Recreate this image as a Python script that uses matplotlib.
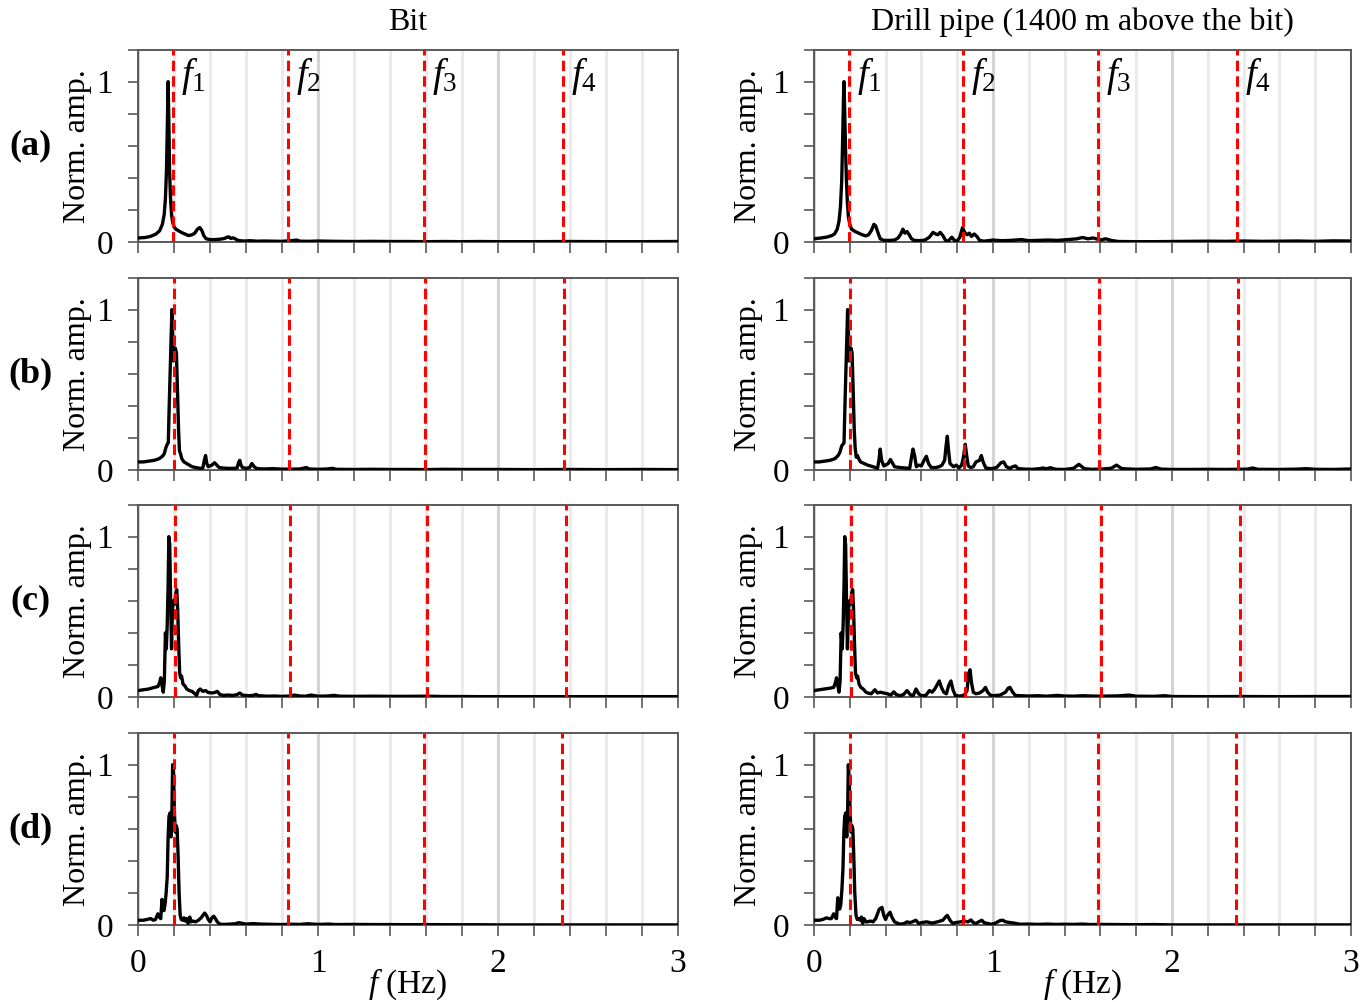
import matplotlib
matplotlib.use('Agg')
import matplotlib.pyplot as plt
from matplotlib.ticker import MultipleLocator, FixedLocator, NullFormatter

plt.rcParams['font.family'] = ['Liberation Serif', 'DejaVu Serif']
plt.rcParams['mathtext.fontset'] = 'custom'
plt.rcParams['mathtext.rm'] = 'Liberation Serif'
plt.rcParams['mathtext.it'] = 'Liberation Serif:italic'

# ---- spectra (frequency in Hz, normalised amplitude) ----
bit_a_f = [0, 0.04, 0.07, 0.10, 0.12, 0.135, 0.145, 0.152, 0.158, 0.163, 0.167, 0.171, 0.175, 0.18,
           0.186, 0.193, 0.2, 0.21, 0.225, 0.24, 0.26, 0.28, 0.30, 0.315, 0.33, 0.343, 0.355, 0.365,
           0.378, 0.40, 0.43, 0.46, 0.48, 0.495, 0.505, 0.515, 0.527, 0.54, 0.55, 0.565, 0.59, 0.62,
           0.66, 0.70, 0.75, 0.80, 0.85, 0.88, 0.90, 0.95, 1.0, 1.1, 1.2, 1.3, 1.4, 1.5, 1.6, 1.7,
           1.8, 1.9, 2.0, 2.2, 2.4, 2.6, 2.8, 3.0]
bit_a_amp = [0.025, 0.028, 0.035, 0.05, 0.07, 0.11, 0.17, 0.27, 0.45, 0.75, 1.0, 0.75, 0.45, 0.28,
             0.17, 0.12, 0.095, 0.08, 0.07, 0.06, 0.05, 0.04, 0.045, 0.055, 0.08, 0.09, 0.07, 0.04,
             0.02, 0.015, 0.015, 0.018, 0.022, 0.03, 0.032, 0.022, 0.026, 0.02, 0.012, 0.008, 0.006, 0.008,
             0.005, 0.006, 0.005, 0.004, 0.008, 0.012, 0.005, 0.004, 0.006, 0.004, 0.003, 0.004, 0.003, 0.003, 0.002, 0.003,
             0.002, 0.003, 0.002, 0.002, 0.003, 0.002, 0.002, 0.003]

pipe_a_f = [0, 0.04, 0.07, 0.10, 0.115, 0.13, 0.14, 0.148, 0.155, 0.161, 0.165, 0.168, 0.172, 0.176,
            0.181, 0.186, 0.192, 0.2, 0.21, 0.23, 0.25, 0.27, 0.29, 0.305, 0.32, 0.335, 0.345, 0.357,
            0.37, 0.39, 0.42, 0.45, 0.47, 0.485, 0.497, 0.508, 0.52, 0.532, 0.545, 0.56, 0.59, 0.62,
            0.645, 0.665, 0.68, 0.692, 0.705, 0.72, 0.735, 0.75, 0.77, 0.785, 0.80, 0.815, 0.83, 0.842,
            0.855, 0.868, 0.88, 0.895, 0.91, 0.925, 0.95, 1.0, 1.05, 1.1, 1.16, 1.2, 1.25, 1.31, 1.36,
            1.42, 1.47, 1.5, 1.53, 1.56, 1.6, 1.63, 1.66, 1.7, 1.8, 1.9, 2.0, 2.1, 2.2, 2.3, 2.4, 2.5,
            2.6, 2.7, 2.8, 2.9, 3.0]
pipe_a_amp = [0.02, 0.025, 0.03, 0.04, 0.05, 0.08, 0.13, 0.22, 0.38, 0.68, 0.9, 1.0, 0.8, 0.6,
              0.4, 0.26, 0.16, 0.11, 0.08, 0.065, 0.055, 0.045, 0.038, 0.045, 0.07, 0.11, 0.1, 0.06,
              0.02, 0.01, 0.01, 0.012, 0.025, 0.05, 0.08, 0.055, 0.065, 0.045, 0.02, 0.01, 0.008, 0.012,
              0.03, 0.06, 0.05, 0.045, 0.06, 0.04, 0.01, 0.005, 0.03, 0.01, 0.005, 0.03, 0.09, 0.06,
              0.045, 0.055, 0.035, 0.05, 0.035, 0.01, 0.005, 0.012, 0.008, 0.01, 0.015, 0.008, 0.01, 0.012, 0.01,
              0.015, 0.02, 0.028, 0.02, 0.025, 0.012, 0.02, 0.01, 0.003, 0.002, 0.002, 0.003, 0.004, 0.005, 0.004, 0.006, 0.004,
              0.005, 0.006, 0.004, 0.007, 0.006]

bit_b_f = [0, 0.03, 0.06, 0.09, 0.117, 0.135, 0.145, 0.155, 0.162, 0.168, 0.173, 0.178, 0.183, 0.188,
           0.192, 0.196, 0.2, 0.207, 0.213, 0.219, 0.225, 0.23, 0.236, 0.243, 0.255, 0.27, 0.285, 0.30,
           0.32, 0.345, 0.36, 0.368, 0.375, 0.382, 0.39, 0.40, 0.41, 0.425, 0.438, 0.45, 0.47, 0.50,
           0.53, 0.55, 0.558, 0.565, 0.572, 0.58, 0.6, 0.62, 0.632, 0.645, 0.66, 0.70, 0.75, 0.80,
           0.85, 0.90, 0.935, 0.95, 1.0, 1.05, 1.08, 1.1, 1.2, 1.3, 1.4, 1.5, 1.6, 1.7, 1.8, 2.0,
           2.2, 2.4, 2.6, 2.8, 3.0]
bit_b_amp = [0.05, 0.05, 0.055, 0.06, 0.07, 0.085, 0.1, 0.14, 0.16, 0.17, 0.4, 0.6, 0.8, 1.0,
             0.85, 0.68, 0.74, 0.76, 0.73, 0.5, 0.25, 0.12, 0.1, 0.07, 0.05, 0.04, 0.03, 0.02,
             0.015, 0.01, 0.012, 0.06, 0.09, 0.04, 0.02, 0.025, 0.03, 0.045, 0.03, 0.015, 0.012, 0.01,
             0.01, 0.012, 0.045, 0.06, 0.03, 0.015, 0.01, 0.015, 0.04, 0.02, 0.008, 0.006, 0.008, 0.005,
             0.005, 0.006, 0.015, 0.006, 0.004, 0.006, 0.01, 0.004, 0.003, 0.004, 0.003, 0.003, 0.002, 0.004, 0.003, 0.003,
             0.002, 0.003, 0.002, 0.003, 0.002]

pipe_b_f = [0, 0.03, 0.06, 0.09, 0.117, 0.135, 0.145, 0.155, 0.162, 0.168, 0.173, 0.178, 0.183, 0.188,
            0.192, 0.196, 0.2, 0.207, 0.213, 0.219, 0.225, 0.23, 0.236, 0.243, 0.25, 0.26, 0.28, 0.30,
            0.33, 0.355, 0.363, 0.37, 0.378, 0.39, 0.40, 0.415, 0.427, 0.44, 0.45, 0.48, 0.51, 0.535,
            0.545, 0.553, 0.562, 0.572, 0.585, 0.60, 0.615, 0.628, 0.64, 0.655, 0.68, 0.70, 0.715, 0.73,
            0.738, 0.745, 0.752, 0.76, 0.78, 0.795, 0.81, 0.825, 0.835, 0.845, 0.853, 0.862, 0.875, 0.89,
            0.905, 0.925, 0.935, 0.945, 0.96, 0.99, 1.02, 1.045, 1.06, 1.075, 1.095, 1.11, 1.126, 1.14,
            1.18, 1.22, 1.26, 1.28, 1.3, 1.32, 1.35, 1.4, 1.45, 1.48, 1.51, 1.55, 1.6, 1.66, 1.69,
            1.72, 1.8, 1.88, 1.91, 1.94, 2.0, 2.1, 2.2, 2.3, 2.42, 2.45, 2.48, 2.6, 2.7, 2.75, 2.8,
            2.9, 3.0]
pipe_b_amp = [0.05, 0.05, 0.055, 0.06, 0.07, 0.09, 0.11, 0.15, 0.16, 0.17, 0.4, 0.6, 0.8, 1.0,
              0.85, 0.68, 0.74, 0.76, 0.73, 0.5, 0.25, 0.14, 0.08, 0.09, 0.07, 0.05, 0.04, 0.03,
              0.02, 0.01, 0.06, 0.13, 0.06, 0.025, 0.03, 0.04, 0.065, 0.04, 0.02, 0.015, 0.012, 0.01,
              0.08, 0.13, 0.09, 0.02, 0.03, 0.025, 0.06, 0.085, 0.04, 0.015, 0.015, 0.02, 0.03, 0.06,
              0.15, 0.21, 0.12, 0.04, 0.02, 0.03, 0.012, 0.03, 0.08, 0.16, 0.09, 0.025, 0.015, 0.02,
              0.05, 0.06, 0.09, 0.05, 0.012, 0.008, 0.015, 0.045, 0.05, 0.02, 0.01, 0.02, 0.025, 0.008,
              0.005, 0.004, 0.008, 0.012, 0.007, 0.014, 0.004, 0.003, 0.01, 0.035, 0.008, 0.004, 0.005, 0.01, 0.03,
              0.008, 0.004, 0.006, 0.015, 0.005, 0.003, 0.003, 0.004, 0.003, 0.005, 0.012, 0.004, 0.003, 0.005, 0.008, 0.004,
              0.003, 0.006]

bit_c_f = [0, 0.03, 0.06, 0.09, 0.11, 0.12, 0.126, 0.132, 0.14, 0.146, 0.152, 0.157, 0.162, 0.167,
           0.171, 0.176, 0.181, 0.186, 0.191, 0.197, 0.203, 0.21, 0.215, 0.22, 0.225, 0.231, 0.236,
           0.242, 0.25, 0.26, 0.27, 0.285, 0.30, 0.315, 0.325, 0.335, 0.345, 0.36, 0.375, 0.39, 0.41,
           0.425, 0.44, 0.455, 0.475, 0.5, 0.53, 0.55, 0.565, 0.58, 0.61, 0.64, 0.655, 0.67, 0.72,
           0.76, 0.80, 0.84, 0.87, 0.9, 0.93, 0.96, 1.0, 1.05, 1.09, 1.12, 1.2, 1.3, 1.4, 1.5, 1.6,
           1.7, 1.8, 1.9, 2.0, 2.2, 2.4, 2.6, 2.8, 3.0]
bit_c_amp = [0.04, 0.045, 0.05, 0.06, 0.065, 0.09, 0.12, 0.08, 0.03, 0.1, 0.4, 0.3, 0.45, 0.7,
             1.0, 0.95, 0.6, 0.3, 0.55, 0.6, 0.58, 0.65, 0.67, 0.55, 0.35, 0.15, 0.12,
             0.13, 0.08, 0.07, 0.05, 0.04, 0.035, 0.02, 0.01, 0.04, 0.05, 0.035, 0.04, 0.028, 0.025,
             0.028, 0.035, 0.015, 0.01, 0.012, 0.01, 0.015, 0.025, 0.012, 0.008, 0.01, 0.016, 0.008, 0.005,
             0.006, 0.004, 0.006, 0.012, 0.006, 0.005, 0.012, 0.005, 0.006, 0.01, 0.005, 0.004, 0.005, 0.004, 0.004, 0.005,
             0.003, 0.003, 0.002, 0.002, 0.002, 0.002, 0.002, 0.002, 0.002]

pipe_c_f = [0, 0.03, 0.06, 0.09, 0.11, 0.12, 0.126, 0.132, 0.14, 0.146, 0.152, 0.158, 0.163, 0.168,
            0.172, 0.177, 0.182, 0.187, 0.193, 0.199, 0.205, 0.211, 0.216, 0.221, 0.226, 0.232, 0.238,
            0.244, 0.252, 0.262, 0.275, 0.29, 0.30, 0.32, 0.34, 0.355, 0.37, 0.39, 0.41, 0.43, 0.446,
            0.46, 0.48, 0.50, 0.52, 0.54, 0.555, 0.57, 0.585, 0.6, 0.625, 0.645, 0.66, 0.675, 0.69,
            0.70, 0.712, 0.725, 0.74, 0.752, 0.765, 0.778, 0.79, 0.815, 0.84, 0.855, 0.865, 0.872, 0.88,
            0.89, 0.905, 0.925, 0.945, 0.958, 0.97, 0.985, 1.0, 1.04, 1.07, 1.085, 1.095, 1.11, 1.125,
            1.15, 1.2, 1.25, 1.3, 1.36, 1.4, 1.45, 1.5, 1.55, 1.6, 1.7, 1.76, 1.8, 1.9, 1.96, 2.0,
            2.2, 2.4, 2.6, 2.8, 3.0]
pipe_c_amp = [0.04, 0.045, 0.05, 0.055, 0.06, 0.09, 0.12, 0.08, 0.03, 0.1, 0.4, 0.3, 0.45, 0.7,
              1.0, 0.95, 0.6, 0.3, 0.55, 0.6, 0.58, 0.65, 0.67, 0.55, 0.35, 0.15, 0.12,
              0.13, 0.08, 0.06, 0.05, 0.03, 0.025, 0.02, 0.045, 0.025, 0.03, 0.025, 0.02, 0.012, 0.032,
              0.015, 0.008, 0.015, 0.04, 0.012, 0.01, 0.05, 0.02, 0.008, 0.01, 0.04, 0.03, 0.05, 0.08,
              0.1, 0.06, 0.03, 0.02, 0.07, 0.1, 0.04, 0.01, 0.005, 0.012, 0.04, 0.15, 0.17, 0.09,
              0.03, 0.02, 0.025, 0.04, 0.06, 0.03, 0.012, 0.008, 0.012, 0.03, 0.055, 0.06, 0.03, 0.01,
              0.008, 0.006, 0.008, 0.005, 0.01, 0.006, 0.005, 0.008, 0.006, 0.005, 0.007, 0.012, 0.005, 0.004, 0.008, 0.003,
              0.002, 0.003, 0.002, 0.003, 0.003]

bit_d_f = [0, 0.03, 0.05, 0.07, 0.085, 0.097, 0.11, 0.118, 0.126, 0.133, 0.138, 0.144, 0.15, 0.156,
           0.162, 0.167, 0.172, 0.178, 0.183, 0.188, 0.192, 0.197, 0.202, 0.207, 0.212, 0.217, 0.222,
           0.228, 0.234, 0.24, 0.248, 0.255, 0.262, 0.27, 0.278, 0.287, 0.295, 0.305, 0.32, 0.335,
           0.35, 0.36, 0.37, 0.38, 0.39, 0.40, 0.41, 0.42, 0.43, 0.44, 0.455, 0.48, 0.51, 0.54, 0.56,
           0.58, 0.6, 0.64, 0.68, 0.72, 0.76, 0.8, 0.85, 0.9, 0.94, 1.0, 1.06, 1.1, 1.2, 1.3, 1.4,
           1.5, 1.6, 1.7, 1.9, 2.0, 2.3, 2.6, 3.0]
bit_d_amp = [0.03, 0.03, 0.035, 0.04, 0.03, 0.035, 0.07, 0.05, 0.04, 0.16, 0.1, 0.09, 0.13, 0.2,
             0.3, 0.55, 0.68, 0.7, 0.55, 0.7, 1.0, 0.95, 0.7, 0.58, 0.62, 0.6, 0.45,
             0.2, 0.06, 0.035, 0.03, 0.045, 0.025, 0.04, 0.01, 0.05, 0.02, 0.025, 0.02, 0.03,
             0.045, 0.06, 0.075, 0.06, 0.035, 0.02, 0.045, 0.055, 0.04, 0.02, 0.005, 0.004, 0.006, 0.008, 0.015,
             0.01, 0.006, 0.009, 0.006, 0.005, 0.004, 0.003, 0.005, 0.004, 0.008, 0.004, 0.006, 0.003, 0.004, 0.003, 0.003,
             0.002, 0.003, 0.002, 0.002, 0.001, 0.001, 0.001, 0.001]

pipe_d_f = [0, 0.03, 0.05, 0.07, 0.085, 0.097, 0.11, 0.118, 0.126, 0.133, 0.138, 0.144, 0.15, 0.156,
            0.162, 0.167, 0.172, 0.178, 0.183, 0.188, 0.192, 0.197, 0.202, 0.207, 0.212, 0.217, 0.222,
            0.228, 0.235, 0.242, 0.25, 0.258, 0.265, 0.272, 0.28, 0.29, 0.3, 0.315, 0.33, 0.345,
            0.355, 0.365, 0.38, 0.39, 0.40, 0.41, 0.425, 0.435, 0.45, 0.48, 0.505, 0.52, 0.535, 0.55,
            0.569, 0.585, 0.60, 0.63, 0.66, 0.69, 0.72, 0.735, 0.745, 0.76, 0.775, 0.79, 0.82, 0.84,
            0.86, 0.877, 0.89, 0.905, 0.92, 0.938, 0.95, 0.97, 0.99, 1.01, 1.04, 1.055, 1.07, 1.1,
            1.13, 1.15, 1.2, 1.25, 1.3, 1.35, 1.4, 1.45, 1.5, 1.55, 1.6, 1.7, 1.8, 1.9, 2.0, 2.3,
            2.6, 3.0]
pipe_d_amp = [0.03, 0.03, 0.035, 0.045, 0.04, 0.04, 0.07, 0.05, 0.04, 0.17, 0.1, 0.1, 0.13, 0.22,
              0.35, 0.58, 0.68, 0.7, 0.55, 0.7, 1.0, 0.9, 0.7, 0.58, 0.62, 0.6, 0.45,
              0.2, 0.06, 0.035, 0.04, 0.03, 0.05, 0.01, 0.04, 0.02, 0.02, 0.025, 0.02, 0.04,
              0.07, 0.1, 0.11, 0.06, 0.035, 0.06, 0.08, 0.05, 0.02, 0.005, 0.01, 0.02, 0.015, 0.02,
              0.03, 0.01, 0.015, 0.02, 0.012, 0.02, 0.03, 0.05, 0.06, 0.03, 0.01, 0.015, 0.02, 0.025,
              0.02, 0.032, 0.015, 0.01, 0.02, 0.03, 0.015, 0.01, 0.005, 0.01, 0.028, 0.03, 0.02, 0.015,
              0.01, 0.005, 0.006, 0.004, 0.006, 0.004, 0.005, 0.004, 0.006, 0.003, 0.004, 0.003, 0.002, 0.003, 0.001, 0.001,
              0.001, 0.001]

# natural frequencies f1..f4 (Hz) marked in each row
nat_freq_a = [0.194, 0.833, 1.589, 2.361]
nat_freq_b = [0.2, 0.839, 1.594, 2.367]
nat_freq_c = [0.206, 0.844, 1.606, 2.378]
nat_freq_d = [0.2, 0.833, 1.589, 2.356]

row_labels = ['(a)', '(b)', '(c)', '(d)']
col_titles = ['Bit', 'Drill pipe (1400 m above the bit)']
freq_labels = [r'$f_1$', r'$f_2$', r'$f_3$', r'$f_4$']

spectra = [
    [(bit_a_f, bit_a_amp), (pipe_a_f, pipe_a_amp)],
    [(bit_b_f, bit_b_amp), (pipe_b_f, pipe_b_amp)],
    [(bit_c_f, bit_c_amp), (pipe_c_f, pipe_c_amp)],
    [(bit_d_f, bit_d_amp), (pipe_d_f, pipe_d_amp)],
]
nat_freqs = [nat_freq_a, nat_freq_b, nat_freq_c, nat_freq_d]

fig = plt.figure(figsize=(13.71, 10.02), dpi=100)

col_left = [0.1007, 0.5937]
col_width = [0.3939, 0.3917]
row_bottom = [0.7585, 0.531, 0.3044, 0.0768]
row_height = 0.192
ylabel_x = [-0.085, -0.094]
spine_col = '#595959'

for r in range(4):
    for c in range(2):
        ax = fig.add_axes([col_left[c], row_bottom[r], col_width[c], row_height])
        freq, amp = spectra[r][c]
        ax.plot(freq, amp, color='black', lw=2.4, zorder=3)
        for k, fk in enumerate(nat_freqs[r]):
            ax.axvline(fk, color='red', lw=2.2, ls=(0, (3.4, 1.7)), zorder=4)
            if r == 0:
                ax.text(fk + 0.045, 1.03, freq_labels[k], fontsize=28,
                        ha='left', va='center', zorder=5)
        ax.set_xlim(0, 3)
        ax.set_ylim(0, 1.2)
        # x ticks every 0.2, labels only at integers
        ax.xaxis.set_major_locator(MultipleLocator(1))
        ax.xaxis.set_minor_locator(MultipleLocator(0.2))
        ax.yaxis.set_major_locator(FixedLocator([0, 1]))
        ax.yaxis.set_minor_locator(MultipleLocator(0.2))
        ax.grid(which='minor', axis='x', color='#ebebeb', lw=2.2, zorder=0)
        ax.grid(which='major', axis='x', color='#d4d4d4', lw=2.2, zorder=0)
        ax.set_axisbelow(True)
        ax.tick_params(axis='x', which='both', direction='out', length=8, width=1.2,
                       color=spine_col, labelsize=24, pad=9)
        ax.tick_params(axis='y', which='both', direction='out', length=7, width=1.2,
                       color=spine_col, labelsize=24, pad=11)
        ax.set_yticklabels(['0', '1'])
        if r < 3:
            ax.xaxis.set_major_formatter(NullFormatter())
        for sp in ax.spines.values():
            sp.set_color(spine_col)
            sp.set_linewidth(1.4)
        ax.set_ylabel('Norm. amp.', fontsize=23)
        ax.yaxis.set_label_coords(ylabel_x[c], 0.5)
        if r == 0:
            ax.set_title(col_titles[c], fontsize=23, pad=14)
        if r == 3:
            ax.set_xlabel(r'$f$ (Hz)', fontsize=24, labelpad=-9)
    fig.text(0.022, row_bottom[r] + row_height * 0.5, row_labels[r],
             fontsize=26, fontweight='bold', ha='center', va='center')

fig.savefig('out.png', dpi=100)
